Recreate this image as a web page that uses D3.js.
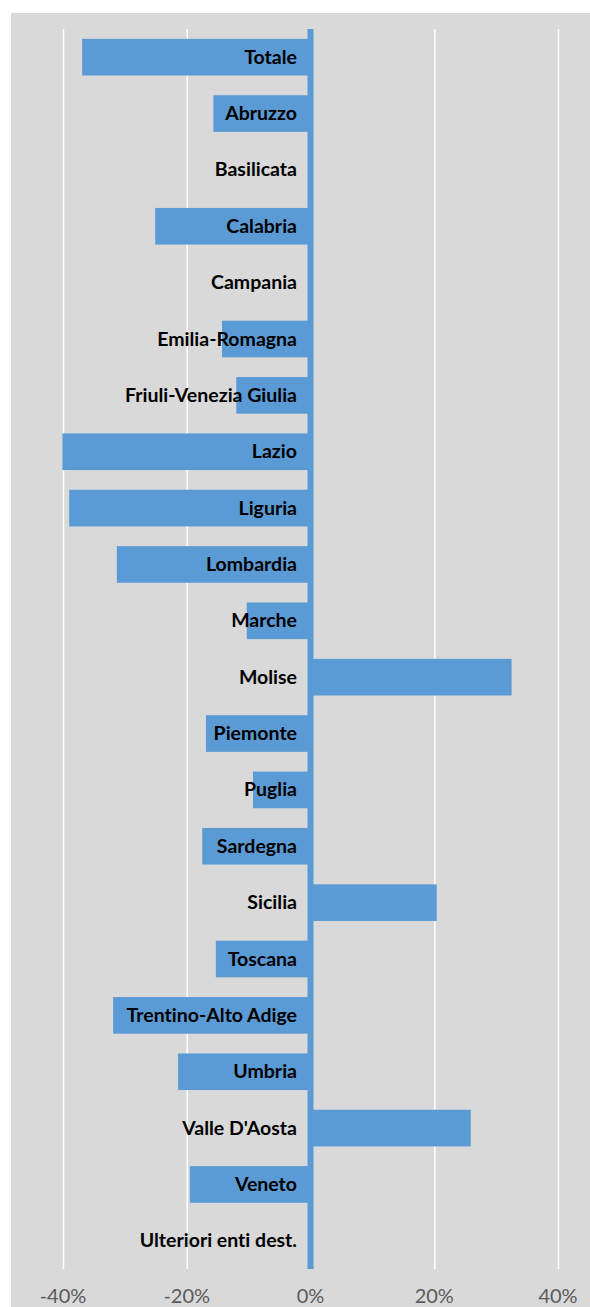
<!DOCTYPE html>
<html>
<head>
<meta charset="utf-8">
<script src="https://cdn.jsdelivr.net/npm/d3@7"></script>
<style>
  body { margin: 0; background: #fff; }
  svg { display: block; }
  text { font-variant-ligatures: none; font-feature-settings: "liga" 0; }
</style>
</head>
<body>
<div id="chart"></div>
<script>
let regions = ['Totale', 'Abruzzo', 'Basilicata', 'Calabria', 'Campania', 'Emilia-Romagna',
  'Friuli-Venezia Giulia', 'Lazio', 'Liguria', 'Lombardia', 'Marche', 'Molise', 'Piemonte',
  'Puglia', 'Sardegna', 'Sicilia', 'Toscana', 'Trentino-Alto Adige', 'Umbria',
  "Valle D'Aosta", 'Veneto', 'Ulteriori enti dest.'];
let changes = [-36.9, -15.7, 0, -25.1, 0, -14.3, -12.0, -40.1, -39.0, -31.3, -10.3, 32.5,
  -16.9, -9.3, -17.5, 20.4, -15.3, -31.9, -21.4, 25.9, -19.5, 0];
let tickValues = [-40, -20, 0, 20, 40];
let tickLabels = ['-40%', '-20%', '0%', '20%', '40%'];

let width = 590, height = 1307;
let svg = d3.select('#chart').append('svg')
            .attr('width', width)
            .attr('height', height);

// grey plot background
svg.append('rect')
   .attr('x', 11).attr('y', 13)
   .attr('width', width - 11).attr('height', height - 13)
   .style('fill', '#d9d9d9');

let xScale = d3.scaleLinear().domain([-40, 40]).range([63, 558]);
let yScale = d3.scaleBand().domain(regions).range([29, 1269])
               .paddingInner(0.35).paddingOuter(0.175);

// gridlines
svg.append('g')
   .attr('class', 'grid')
   .attr('transform', 'translate(0, 29)')
   .call(d3.axisBottom(xScale).tickValues(tickValues).tickSize(1240).tickFormat(''))
   .call(g => g.select('.domain').remove())
   .selectAll('line')
   .style('stroke', '#ffffff')
   .style('stroke-width', 1.5);

// bars
svg.selectAll('rect.bar')
   .data(regions)
   .enter()
   .append('rect')
   .attr('class', 'bar')
   .attr('x', (d, i) => xScale(Math.min(0, changes[i])))
   .attr('y', d => yScale(d))
   .attr('width', (d, i) => Math.abs(xScale(changes[i]) - xScale(0)))
   .attr('height', yScale.bandwidth())
   .style('fill', '#5b9bd5');

// vertical axis line at 0
svg.append('line')
   .attr('x1', xScale(0)).attr('x2', xScale(0))
   .attr('y1', 29).attr('y2', 1269)
   .style('stroke', '#5b9bd5')
   .style('stroke-width', 6);

// category labels
svg.selectAll('text.cat')
   .data(regions)
   .enter()
   .append('text')
   .attr('class', 'cat')
   .attr('x', 297)
   .attr('y', d => yScale(d) + yScale.bandwidth() / 2 + 6.5)
   .attr('text-anchor', 'end')
   .style('font-family', 'Lato, sans-serif')
   .style('font-weight', 'bold')
   .style('font-size', '19.5px')
   .style('fill', '#000')
   .text(d => d);

// x tick labels
svg.selectAll('text.tick')
   .data(tickValues)
   .enter()
   .append('text')
   .attr('class', 'tick')
   .attr('x', d => xScale(d))
   .attr('y', 1303)
   .attr('text-anchor', 'middle')
   .style('font-family', 'Lato, sans-serif')
   .style('font-size', '20px')
   .style('fill', '#595959')
   .text((d, i) => tickLabels[i]);
</script>
</body>
</html>
